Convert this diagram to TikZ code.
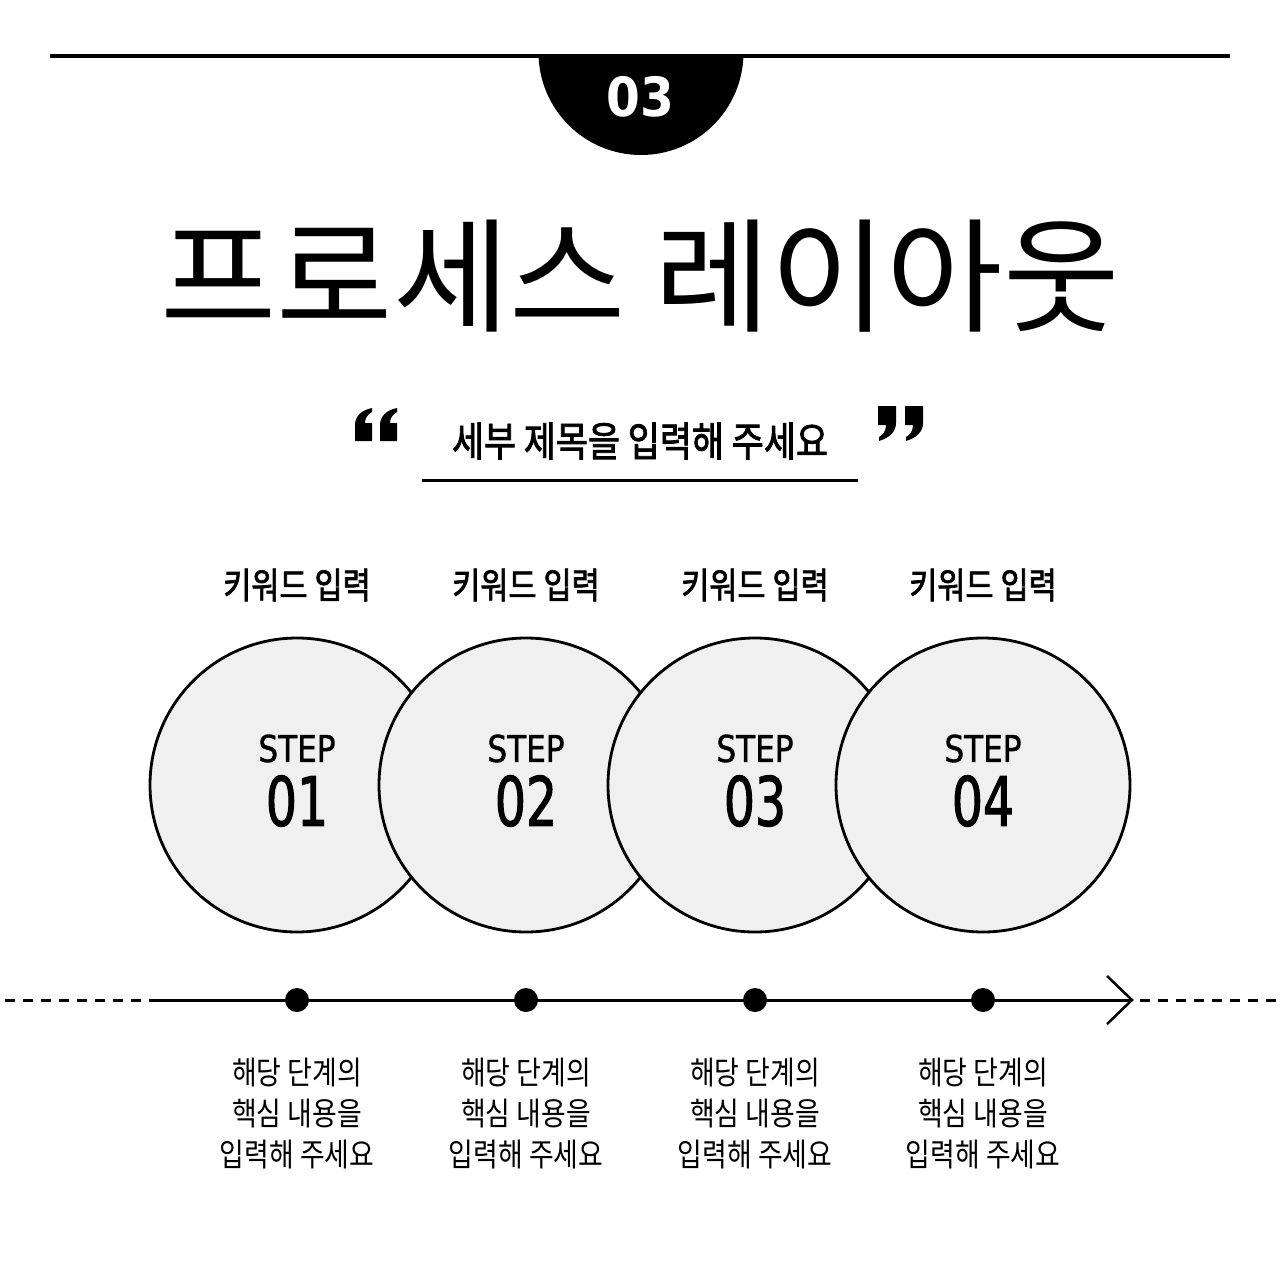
\documentclass[tikz,border=0pt]{standalone}
\usepackage{fontspec}
\usepackage{graphicx}
\newfontfamily\krtitle{Noto Sans CJK KR}[FakeStretch=1.02]
\newfontfamily\krsub{Noto Sans CJK KR}[FakeStretch=0.85, FakeBold=2]
\newfontfamily\krkey{Noto Sans CJK KR}[FakeStretch=0.85, FakeBold=2]
\newfontfamily\krbody{Noto Sans CJK KR}[FakeStretch=0.84]
\newfontfamily\numfont{DejaVu Sans}[FakeStretch=0.72, FakeBold=1.5]
\newfontfamily\stepfont{DejaVu Sans}[FakeStretch=0.84, FakeBold=1]
\newfontfamily\topnum{DejaVu Sans}[FakeStretch=0.9]
\definecolor{circfill}{HTML}{F0F0F0}
\tikzset{
  stepcircle/.style={circle, draw=black, line width=2.8pt, fill=circfill, minimum size=294pt, inner sep=0pt},
  steplabel/.style={inner sep=0pt, font=\stepfont\fontsize{37}{40}\selectfont},
  stepnum/.style={inner sep=0pt, font=\numfont\fontsize{68}{70}\selectfont},
  keylabel/.style={inner sep=0pt, font=\krkey\fontsize{36}{40}\selectfont},
  bodytext/.style={inner sep=0pt, font=\krbody\fontsize{32}{36}\selectfont},
  dotnode/.style={circle, fill=black, minimum size=24pt, inner sep=0pt},
  dashline/.style={line width=3pt, dash pattern=on 10pt off 8pt},
}
\begin{document}
\begin{tikzpicture}[x=1pt,y=-1pt]
\useasboundingbox (0,0) rectangle (1280,1280);
\fill[white] (0,0) rectangle (1280,1280);
% top band
\begin{scope}
  \clip (0,56) rectangle (1280,200);
  \fill[black] (641,52.5) circle (102.5pt);
\end{scope}
\coordinate (topL) at (50,56);
\coordinate (topR) at (1230,56);
\draw[line width=3.5pt] (topL) -- (topR);
\node[inner sep=0pt, text=white, font=\topnum\bfseries\fontsize{54}{56}\selectfont] (badge) at (640,97) {03};
% title
\node[inner sep=0pt, font=\krtitle\fontsize{124}{130}\selectfont] (title) at (640,276) {프로세스 레이아웃};
% subtitle
\node[inner sep=0pt, font=\krsub\fontsize{41}{44}\selectfont] (sub) at (640,441) {세부 제목을 입력해 주세요};
\coordinate (ulL) at (422,480);
\coordinate (ulR) at (858,480);
\draw[line width=3pt] (ulL) -- (ulR);
% quote marks
\foreach \ox in {355,380}{
  \fill[black, shift={(\ox,408)}] (0,33) -- (0,17) .. controls (0,8) and (7,2) .. (17,0) -- (17,4) .. controls (13,6) and (10,10) .. (10,15) -- (17,15) -- (17,33) -- cycle;
}
\foreach \ox in {878,905}{
  \fill[black, shift={(\ox,406)}] (0,0) -- (18,0) -- (18,17) .. controls (18,26) and (11,32) .. (1,35) -- (1,31) .. controls (5,29) and (8,25) .. (8,19) -- (0,19) -- cycle;
}
% circles
\foreach \i/\x in {1/297,2/526,3/755,4/983}{
  \node[keylabel] (k\i) at (\x,585) {키워드 입력};
  \node[stepcircle] (c\i) at (\x,785) {};
  \node[steplabel] (s\i) at (\x,748.5) {STEP};
  \node[stepnum] (n\i) at (\x,801) {0\i};
}
% timeline
\coordinate (a0) at (5,1000);
\coordinate (a1) at (150,1000);
\coordinate (tip) at (1132,1000);
\coordinate (a2) at (1140,1000);
\coordinate (a3) at (1278,1000);
\coordinate (chevT) at (1107,976);
\coordinate (chevB) at (1107,1024);
\draw[dashline] (a0) -- (a1);
\draw[dashline] (a2) -- (a3);
\draw[line width=3pt] (a1) -- (tip);
\draw[line width=2.5pt, line join=miter] (chevT) -- (tip) -- (chevB);
\foreach \i/\x in {1/297,2/526,3/755,4/983}{
  \node[dotnode] (d\i) at (\x,1000) {};
  \node[bodytext] (ba\i) at (\x,1073) {해당 단계의};
  \node[bodytext] (bb\i) at (\x,1114) {핵심 내용을};
  \node[bodytext] (bc\i) at (\x,1155) {입력해 주세요};
}
\end{tikzpicture}
\end{document}
